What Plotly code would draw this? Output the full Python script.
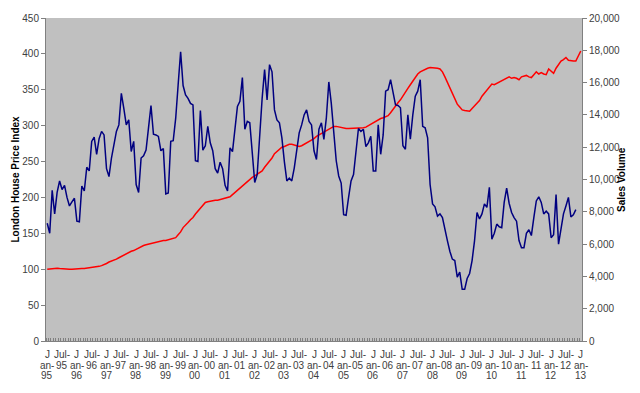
import plotly.graph_objects as go
import pandas as pd

# Monthly categories Jan-95 .. Jan-13
months = [d.strftime("%b-%y") for d in pd.date_range("1995-01-01", "2013-01-01", freq="MS")]

# London House Price Index (left axis)
price_index = [
    100, 100.5, 101, 101.5, 101.5, 101, 100.5, 100, 100, 100, 100, 100.5,
    100.5, 101, 101, 101, 101.5, 102, 102, 102.5, 103, 104, 105, 106,
    108, 110, 111, 113, 114, 116, 118, 120, 121, 123, 125, 126,
    128, 130, 131, 133, 134, 135, 136, 137, 138, 139, 139, 140,
    140, 141, 142, 143, 144, 148, 152, 158, 161, 165, 169, 172,
    177, 181, 186, 189, 193, 194, 195, 195, 196, 196, 197, 197,
    198, 199, 201, 204, 207, 210, 214, 217, 220, 223, 225, 228,
    230, 232, 235, 237, 242, 246, 251, 255, 261, 264, 267, 270,
    271, 273, 274, 274, 273, 273, 271, 272, 274, 275, 277, 280,
    282, 285, 287, 289, 291, 293, 295, 297, 299, 299, 298, 298,
    297, 296, 296, 296, 297, 296, 296, 296, 297, 298, 300, 302,
    305, 306, 308, 310, 311, 313, 314, 318, 323, 328, 332, 336,
    342, 346, 352, 357, 362, 367, 372, 375, 377, 379, 380, 381,
    381, 381, 380, 379, 375, 368, 360, 352, 345, 337, 330, 326,
    322, 321, 320, 320, 324, 328, 331, 335, 341, 345, 350, 353,
    358, 357, 359, 361, 362, 364, 366, 368, 366, 367, 366, 364,
    368, 369, 370, 368, 367, 371, 375, 372, 374, 372, 371, 379,
    376, 373, 380, 386, 390, 392, 395, 391, 390, 390, 390, 398,
    404,
]

# Sales Volume (right axis), Jan-95 .. Nov-12
sales_volume = [
    7290, 6670, 9330, 7870, 9200, 9910, 9380, 9640, 8890, 8360, 8620, 8840,
    7420, 7380, 9600, 9290, 10760, 10530, 12360, 12620, 11560, 12530, 12980, 12760,
    10670, 10180, 11330, 12270, 12980, 13380, 15330, 14400, 13380, 13690, 11730, 12360,
    9690, 9200, 11330, 11470, 11820, 13200, 14580, 12800, 12760, 12670, 11780, 11910,
    9110, 9160, 12360, 12400, 13780, 15870, 17910, 15820, 15240, 15020, 14710, 14620,
    11160, 11110, 14270, 11820, 12090, 13290, 12270, 11780, 10670, 10400, 11070, 10670,
    9640, 9290, 11960, 11730, 13200, 14530, 14840, 16310, 13110, 13600, 13510, 11730,
    9820, 10310, 12890, 15020, 16800, 14930, 17110, 16670, 14310, 13690, 13510, 12580,
    11110, 9910, 10090, 9910, 10710, 11780, 12890, 13380, 14000, 14310, 13600, 13380,
    11780, 11240, 13110, 13510, 12490, 13820, 16040, 14710, 12760, 11160, 10220, 9780,
    7820, 7780, 8890, 9910, 10310, 11780, 13160, 12980, 13110, 12040, 12270, 12670,
    10530, 10530, 13380, 11560, 12760, 15470, 15560, 16180, 15470, 14620, 14580, 14440,
    12090, 11870, 14000, 12490, 14000, 15160, 15470, 16180, 13290, 13200, 12580, 9690,
    8490, 8310, 7730, 7870, 7640, 6840, 6220, 5560, 5070, 4980, 3960, 4270,
    3200, 3200, 3870, 4180, 4980, 6220, 7960, 7560, 7870, 8490, 8270, 9510,
    6310, 6670, 7240, 7070, 7020, 8580, 9470, 8530, 7960, 7640, 7420, 6220,
    5780, 5780, 6670, 6890, 6530, 7640, 8670, 8930, 8580, 7870, 8040, 7870,
    6400, 6580, 9070, 6000, 7020, 7870, 8360, 8890, 7690, 7820, 8130,
]

left_ticks = list(range(0, 451, 50))
right_ticks = list(range(0, 20001, 2000))

x_idx = list(range(len(months)))
tick_pos = [i for i in x_idx if i % 6 == 0]

FONT = "Liberation Sans, Arial, sans-serif"
TXT = "#404040"
PLOT_H = 325.0

fig = go.Figure()
fig.add_trace(go.Scatter(
    x=x_idx[:len(sales_volume)], y=sales_volume, yaxis="y2", mode="lines",
    line=dict(color="#000080", width=1.5), name="Sales Volume",
))
fig.add_trace(go.Scatter(
    x=x_idx, y=price_index, mode="lines",
    line=dict(color="#FF0000", width=1.5), name="London House Price Index",
))

# Wrapped category labels (Excel-style wrapping), one text line per annotation
annotations = []
row_offsets = [14, 24.5, 35]
for i in tick_pos:
    m, y = months[i].split("-")
    lines = ["J", "an-", y] if m == "Jan" else [m + "-", y]
    for k, t in enumerate(lines):
        annotations.append(dict(
            x=i, xref="x", y=-row_offsets[k] / PLOT_H, yref="paper",
            text=t, showarrow=False, xanchor="center", yanchor="middle",
            font=dict(family=FONT, size=10, color=TXT),
        ))

annotations.append(dict(
    x=(15 - 46) / 536.0, xref="paper", y=0.5, yref="paper",
    text="<b>London House Price Index</b>", textangle=-90, showarrow=False,
    xanchor="center", yanchor="middle",
    font=dict(family=FONT, size=10, color="#000"),
))
annotations.append(dict(
    x=(621.5 - 46) / 536.0, xref="paper", y=0.5, yref="paper",
    text="<b>Sales Volume</b>", textangle=-90, showarrow=False,
    xanchor="center", yanchor="middle",
    font=dict(family=FONT, size=10, color="#000"),
))

fig.update_layout(
    width=640, height=393,
    margin=dict(l=46, r=58, t=16, b=52),
    paper_bgcolor="white", plot_bgcolor="#C0C0C0",
    showlegend=False,
    font=dict(family=FONT, size=10, color=TXT),
    annotations=annotations,
    xaxis=dict(
        range=[-0.5, len(months) - 0.5], tickmode="array",
        tickvals=tick_pos, ticktext=["" for _ in tick_pos], tickangle=0,
        showgrid=False, zeroline=False, showline=True, linecolor="#808080",
        ticks="",
        minor=dict(ticks="inside", tick0=-0.5, dtick=1, ticklen=3,
                   tickcolor="#808080", showgrid=False),
    ),
    yaxis=dict(
        range=[0, 450], tickmode="array", tickvals=left_ticks,
        showgrid=False, zeroline=False, showline=True, linecolor="#808080",
        ticks="outside", ticklen=4, tickcolor="#808080",
        tickfont=dict(family=FONT, size=10, color=TXT),
    ),
    yaxis2=dict(
        range=[0, 20000], tickmode="array", tickvals=right_ticks,
        tickformat=",", overlaying="y", side="right",
        showgrid=False, zeroline=False, showline=True, linecolor="#808080",
        ticks="outside", ticklen=4, tickcolor="#808080",
        tickfont=dict(family=FONT, size=10, color=TXT),
    ),
)

fig.write_html(
    "out.html",
    config={"displayModeBar": False},
    post_script="document.body.style.margin='0';document.body.style.padding='0';"
                "document.documentElement.style.overflow='hidden';",
)
